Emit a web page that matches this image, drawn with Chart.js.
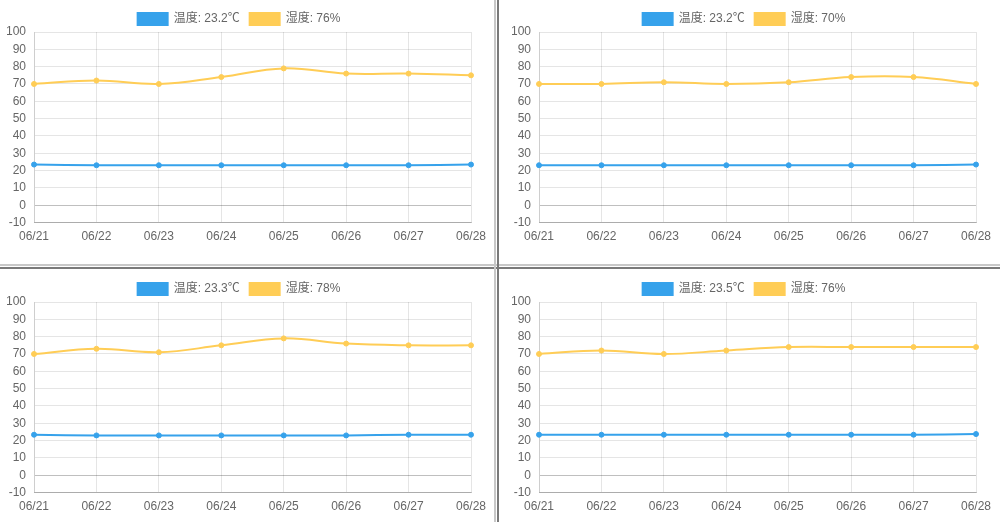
<!DOCTYPE html>
<html>
<head>
<meta charset="utf-8">
<script src="https://cdn.jsdelivr.net/npm/chart.js@4/dist/chart.umd.min.js"></script>
<style>
  html, body { margin: 0; padding: 0; background: #fff; width: 1000px; height: 522px; overflow: hidden; position: relative; }
  .panel { position: absolute; overflow: hidden; }
  .sep { position: absolute; }
</style>
</head>
<body>
<div class="panel" style="left:0;top:0;width:494px;height:262px;"><canvas id="c1" width="494" height="262"></canvas></div>
<div class="panel" style="left:505px;top:0;width:494px;height:262px;"><canvas id="c2" width="494" height="262"></canvas></div>
<div class="panel" style="left:0;top:270px;width:494px;height:252px;"><canvas id="c3" width="494" height="262"></canvas></div>
<div class="panel" style="left:505px;top:270px;width:494px;height:252px;"><canvas id="c4" width="494" height="262"></canvas></div>

<div class="sep" style="left:0;top:264px;width:1000px;height:2px;background:#c8c8c8;"></div>
<div class="sep" style="left:0;top:267px;width:1000px;height:2px;background:#7a7a7a;"></div>
<div class="sep" style="left:494px;top:0;width:2px;height:522px;background:#c8c8c8;"></div>
<div class="sep" style="left:497px;top:0;width:2px;height:522px;background:#7a7a7a;"></div>

<script>
const categories = ['06/21', '06/22', '06/23', '06/24', '06/25', '06/26', '06/27', '06/28'];

const temp1 = [23.5, 23.1, 23.1, 23.1, 23.1, 23.1, 23.1, 23.5];
const hum1  = [70, 72, 70, 74, 79, 76, 76, 75];
const temp2 = [23.1, 23.1, 23.1, 23.1, 23.1, 23.1, 23.1, 23.5];
const hum2  = [70, 70, 71, 70, 71, 74, 74, 70];
const temp3 = [23.4, 23.0, 23.0, 23.0, 23.0, 23.0, 23.4, 23.4];
const hum3  = [70, 73, 71, 75, 79, 76, 75, 75];
const temp4 = [23.4, 23.4, 23.4, 23.4, 23.4, 23.4, 23.4, 23.8];
const hum4  = [70, 72, 70, 72, 74, 74, 74, 74];

const tempNow = ['23.2', '23.2', '23.3', '23.5'];
const humNow  = ['76', '70', '78', '76'];

const yMin = -10;
const yMax = 100;
const yStep = 10;

const FONT = "Arial, 'Noto Sans CJK SC', sans-serif";
const BLUE = '#36A2EB';
const YELLOW = '#FFCD56';

const legendTrim = {
  id: 'legendTrim',
  beforeInit(chart) {
    const lg = chart.legend;
    if (lg && !lg._trimmed) {
      const orig = lg.fit;
      lg.fit = function () { orig.call(this); this.height -= 3; };
      lg._trimmed = true;
    }
  }
};

function makeChart(id, temps, hums, tNow, hNow) {
  new Chart(document.getElementById(id), {
    type: 'line',
    plugins: [legendTrim],
    data: {
      labels: categories,
      datasets: [
        {
          label: '温度: ' + tNow + '℃',
          data: temps,
          borderColor: BLUE,
          backgroundColor: BLUE,
          borderWidth: 2,
          pointRadius: 2.5,
          pointBorderWidth: 1,
          tension: 0.4,
          fill: false
        },
        {
          label: '湿度: ' + hNow + '%',
          data: hums,
          borderColor: YELLOW,
          backgroundColor: YELLOW,
          borderWidth: 2,
          pointRadius: 2.5,
          pointBorderWidth: 1,
          tension: 0.4,
          fill: false
        }
      ]
    },
    options: {
      responsive: false,
      animation: false,
      events: [],
      layout: { padding: { left: 7, right: 23, top: 3, bottom: 11 } },
      plugins: {
        legend: {
          display: true,
          position: 'top',
          labels: {
            boxWidth: 30,
            boxHeight: 12,
            color: '#666',
            font: { family: FONT, size: 12 },
            padding: 10
          }
        },
        tooltip: { enabled: false }
      },
      scales: {
        x: {
          ticks: { color: '#666', font: { family: FONT, size: 12 }, padding: 7, maxRotation: 0, autoSkip: false },
          grid: {
            drawTicks: false,
            color: 'rgba(0,0,0,0.1)'
          },
          border: { display: true, color: 'rgba(0,0,0,0.25)' }
        },
        y: {
          min: yMin,
          max: yMax,
          afterFit: (scale) => { scale.width = scale.width - 9; },
          ticks: { stepSize: yStep, autoSkip: false, color: '#666', font: { family: FONT, size: 12 }, padding: 8 },
          grid: {
            drawTicks: false,
            color: (ctx) => (ctx.tick && ctx.tick.value === 0) ? 'rgba(0,0,0,0.25)' : 'rgba(0,0,0,0.1)'
          },
          border: { display: true, color: 'rgba(0,0,0,0.1)' }
        }
      }
    }
  });
}

makeChart('c1', temp1, hum1, tempNow[0], humNow[0]);
makeChart('c2', temp2, hum2, tempNow[1], humNow[1]);
makeChart('c3', temp3, hum3, tempNow[2], humNow[2]);
makeChart('c4', temp4, hum4, tempNow[3], humNow[3]);
</script>
</body>
</html>
